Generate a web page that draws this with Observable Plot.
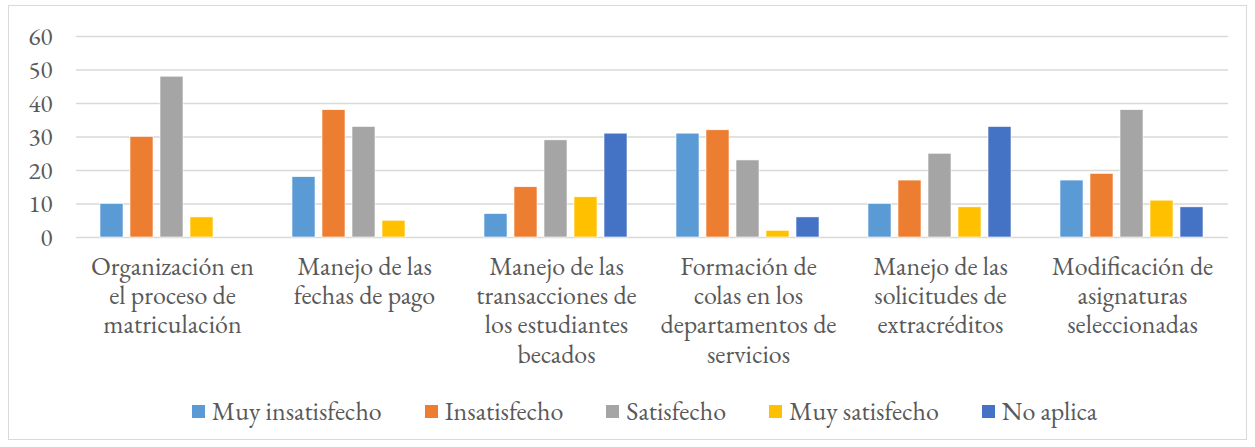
<!DOCTYPE html>
<html><head><meta charset="utf-8">
<script src="https://cdn.jsdelivr.net/npm/d3@7"></script>
<script src="https://cdn.jsdelivr.net/npm/@observablehq/plot@0.6"></script>
<style>
html,body{margin:0;padding:0;background:#fff;}
#box{position:absolute;left:8px;top:5px;width:1239px;height:435px;border:1px solid #d9d9d9;box-sizing:border-box;font-family:'EB Garamond','Liberation Serif',serif;font-variant-numeric:lining-nums;}
#chart{position:absolute;left:0;top:0;}
#chart svg, #chart text{font-family:'EB Garamond','Liberation Serif',serif !important;font-variant-numeric:lining-nums;}
#legend{position:absolute;left:0;right:0;top:388px;height:34px;display:flex;justify-content:center;align-items:center;padding-left:34px;gap:43px;font-size:26px;color:#595959;font-family:'EB Garamond','Liberation Serif',serif;}
#legend .item{display:flex;align-items:center;gap:7px;white-space:nowrap;}
#legend .sw{width:13px;height:13px;display:inline-block;}
</style></head>
<body>
<div id="box"><div id="chart"></div><div id="legend"></div></div>
<script>
const categories = [
  "Organización en el proceso de matriculación",
  "Manejo de las fechas de pago",
  "Manejo de las transacciones de los estudiantes becados",
  "Formación de colas en los departamentos de servicios",
  "Manejo de las solicitudes de extracréditos",
  "Modificación de asignaturas seleccionadas"
];
const categoryLabels = [
  "Organización en\nel proceso de\nmatriculación",
  "Manejo de las\nfechas de pago",
  "Manejo de las\ntransacciones de\nlos estudiantes\nbecados",
  "Formación de\ncolas en los\ndepartamentos de\nservicios",
  "Manejo de las\nsolicitudes de\nextracréditos",
  "Modificación de\nasignaturas\nseleccionadas"
];
const series = ["Muy insatisfecho", "Insatisfecho", "Satisfecho", "Muy satisfecho", "No aplica"];
const muyInsatisfecho = [10, 18, 7, 31, 10, 17];
const insatisfecho = [30, 38, 15, 32, 17, 19];
const satisfecho = [48, 33, 29, 23, 25, 38];
const muySatisfecho = [6, 5, 12, 2, 9, 11];
const noAplica = [null, null, 31, 6, 33, 9];
const colors = ["#5B9BD5", "#ED7D31", "#A5A5A5", "#FFC000", "#4472C4"];
const yTicks = [0, 10, 20, 30, 40, 50, 60];

const seriesValues = [muyInsatisfecho, insatisfecho, satisfecho, muySatisfecho, noAplica];
const rows = [];
categories.forEach((c, i) => {
  series.forEach((s, j) => {
    const v = seriesValues[j][i];
    if (v != null) rows.push({cat: c, serie: s, value: v});
  });
});
const labelOf = new Map(categories.map((c, i) => [c, categoryLabels[i]]));
const FONT = "'EB Garamond', 'Liberation Serif', serif";

const chart = Plot.plot({
  width: 1237,
  height: 380,
  marginTop: 30,
  marginLeft: 66,
  marginRight: 17,
  marginBottom: 149,
  style: {fontFamily: FONT, fontSize: "26px", color: "#595959", background: "transparent", overflow: "visible"},
  fx: {domain: categories, padding: 0, axis: null},
  x: {domain: series, paddingInner: 0.22, paddingOuter: 0.75, axis: null},
  y: {domain: [0, 60], axis: null},
  color: {domain: series, range: colors},
  marks: [
    Plot.gridY(yTicks, {stroke: "#d9d9d9", strokeOpacity: 1, strokeWidth: 1.5}),
    Plot.axisY(yTicks, {tickSize: 0, tickPadding: 24, label: null, fontSize: 25, fontFamily: FONT, fill: "#595959"}),
    Plot.barY(rows, {fx: "cat", x: "serie", y: "value", fill: "serie", stroke: "#ffffff", strokeWidth: 0.6}),
    Plot.text(categories, {fx: d => d, text: d => labelOf.get(d), frameAnchor: "bottom", lineAnchor: "top", dy: 17, lineHeight: 1.12, fontSize: 26, fontFamily: FONT, fill: "#595959"})
  ]
});
document.getElementById("chart").appendChild(chart);

const legend = document.getElementById("legend");
series.forEach((s, i) => {
  const item = document.createElement("div");
  item.className = "item";
  const sw = document.createElement("span");
  sw.className = "sw";
  sw.style.background = colors[i];
  const t = document.createElement("span");
  t.textContent = s;
  item.appendChild(sw);
  item.appendChild(t);
  legend.appendChild(item);
});
</script>
</body></html>
